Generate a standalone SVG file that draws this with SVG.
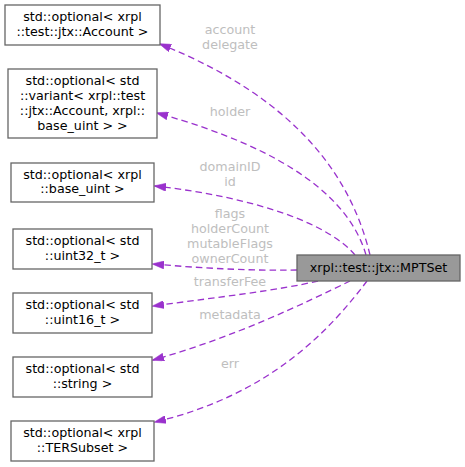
<svg xmlns="http://www.w3.org/2000/svg" width="465" height="467" viewBox="0 0 465 467">
<style>
.box{fill:#ffffff;stroke:#666666;stroke-width:1.3}
.main{fill:#999999;stroke:#666666;stroke-width:1.3}
text{font-family:"DejaVu Sans",sans-serif;font-size:12.7px;text-anchor:middle}
.nt{fill:#000000}
.lbl{fill:#bebebe}
.e{fill:none;stroke:#9a32cd;stroke-width:1.3;stroke-dasharray:6.5,4;marker-end:url(#ah)}
</style>
<defs>
<marker id="ah" markerUnits="userSpaceOnUse" viewBox="0 0 12 8" markerWidth="12" markerHeight="8" refX="11" refY="4" orient="auto">
<path d="M0,0 L12,4 L0,8 z" fill="#9a32cd" stroke="#9a32cd" stroke-width="0.5"/>
</marker>
</defs>
<g id="connectors">
<path class="e" d="M370,255 C352,180 300,100 160,44"/>
<path class="e" d="M366,255 C350,200 290,150 157,113"/>
<path class="e" d="M355,255 C330,225 260,198 155,186"/>
<path class="e" d="M297,270 C250,271 200,268 153,264"/>
<path class="e" d="M318,281 C280,290 220,297 153,306"/>
<path class="e" d="M350,281 C305,303 235,337 153,360"/>
<path class="e" d="M367,281 C330,330 270,395 155,422"/>
<text class="lbl" x="230" y="34">account</text>
<text class="lbl" x="230" y="49">delegate</text>
<text class="lbl" x="230" y="116">holder</text>
<text class="lbl" x="230" y="171">domainID</text>
<text class="lbl" x="230" y="186">id</text>
<text class="lbl" x="230" y="218">flags</text>
<text class="lbl" x="230" y="233">holderCount</text>
<text class="lbl" x="230" y="248">mutableFlags</text>
<text class="lbl" x="230" y="263">ownerCount</text>
<text class="lbl" x="230" y="286">transferFee</text>
<text class="lbl" x="230" y="319">metadata</text>
<text class="lbl" x="230" y="368">err</text>
</g>
<g id="main">
<rect class="main" x="297" y="255" width="163" height="26"/>
<text class="nt" x="378.5" y="271.5">xrpl::test::jtx::MPTSet</text>
</g>
<g id="n1">
<rect class="box" x="5" y="5" width="155" height="40"/>
<text class="nt" x="82.5" y="20.7">std::optional&lt; xrpl</text>
<text class="nt" x="82.5" y="35.7">::test::jtx::Account &gt;</text>
</g>
<g id="n2">
<rect class="box" x="8" y="69" width="149" height="69"/>
<text class="nt" x="82.5" y="84.5">std::optional&lt; std</text>
<text class="nt" x="82.5" y="99.5">::variant&lt; xrpl::test</text>
<text class="nt" x="82.5" y="114.5">::jtx::Account, xrpl::</text>
<text class="nt" x="82.5" y="129.5">base_uint &gt; &gt;</text>
</g>
<g id="n3">
<rect class="box" x="11" y="163" width="143" height="39"/>
<text class="nt" x="82.5" y="178.5">std::optional&lt; xrpl</text>
<text class="nt" x="82.5" y="193">::base_uint &gt;</text>
</g>
<g id="n4">
<rect class="box" x="13" y="229" width="139" height="40"/>
<text class="nt" x="82.5" y="244.7">std::optional&lt; std</text>
<text class="nt" x="82.5" y="259.7">::uint32_t &gt;</text>
</g>
<g id="n5">
<rect class="box" x="13" y="293" width="139" height="40"/>
<text class="nt" x="82.5" y="308.7">std::optional&lt; std</text>
<text class="nt" x="82.5" y="323.7">::uint16_t &gt;</text>
</g>
<g id="n6">
<rect class="box" x="13" y="357" width="139" height="40"/>
<text class="nt" x="82.5" y="372.7">std::optional&lt; std</text>
<text class="nt" x="82.5" y="387.7">::string &gt;</text>
</g>
<g id="n7">
<rect class="box" x="11" y="421" width="143" height="40"/>
<text class="nt" x="82.5" y="436.7">std::optional&lt; xrpl</text>
<text class="nt" x="82.5" y="451.7">::TERSubset &gt;</text>
</g>
</svg>
